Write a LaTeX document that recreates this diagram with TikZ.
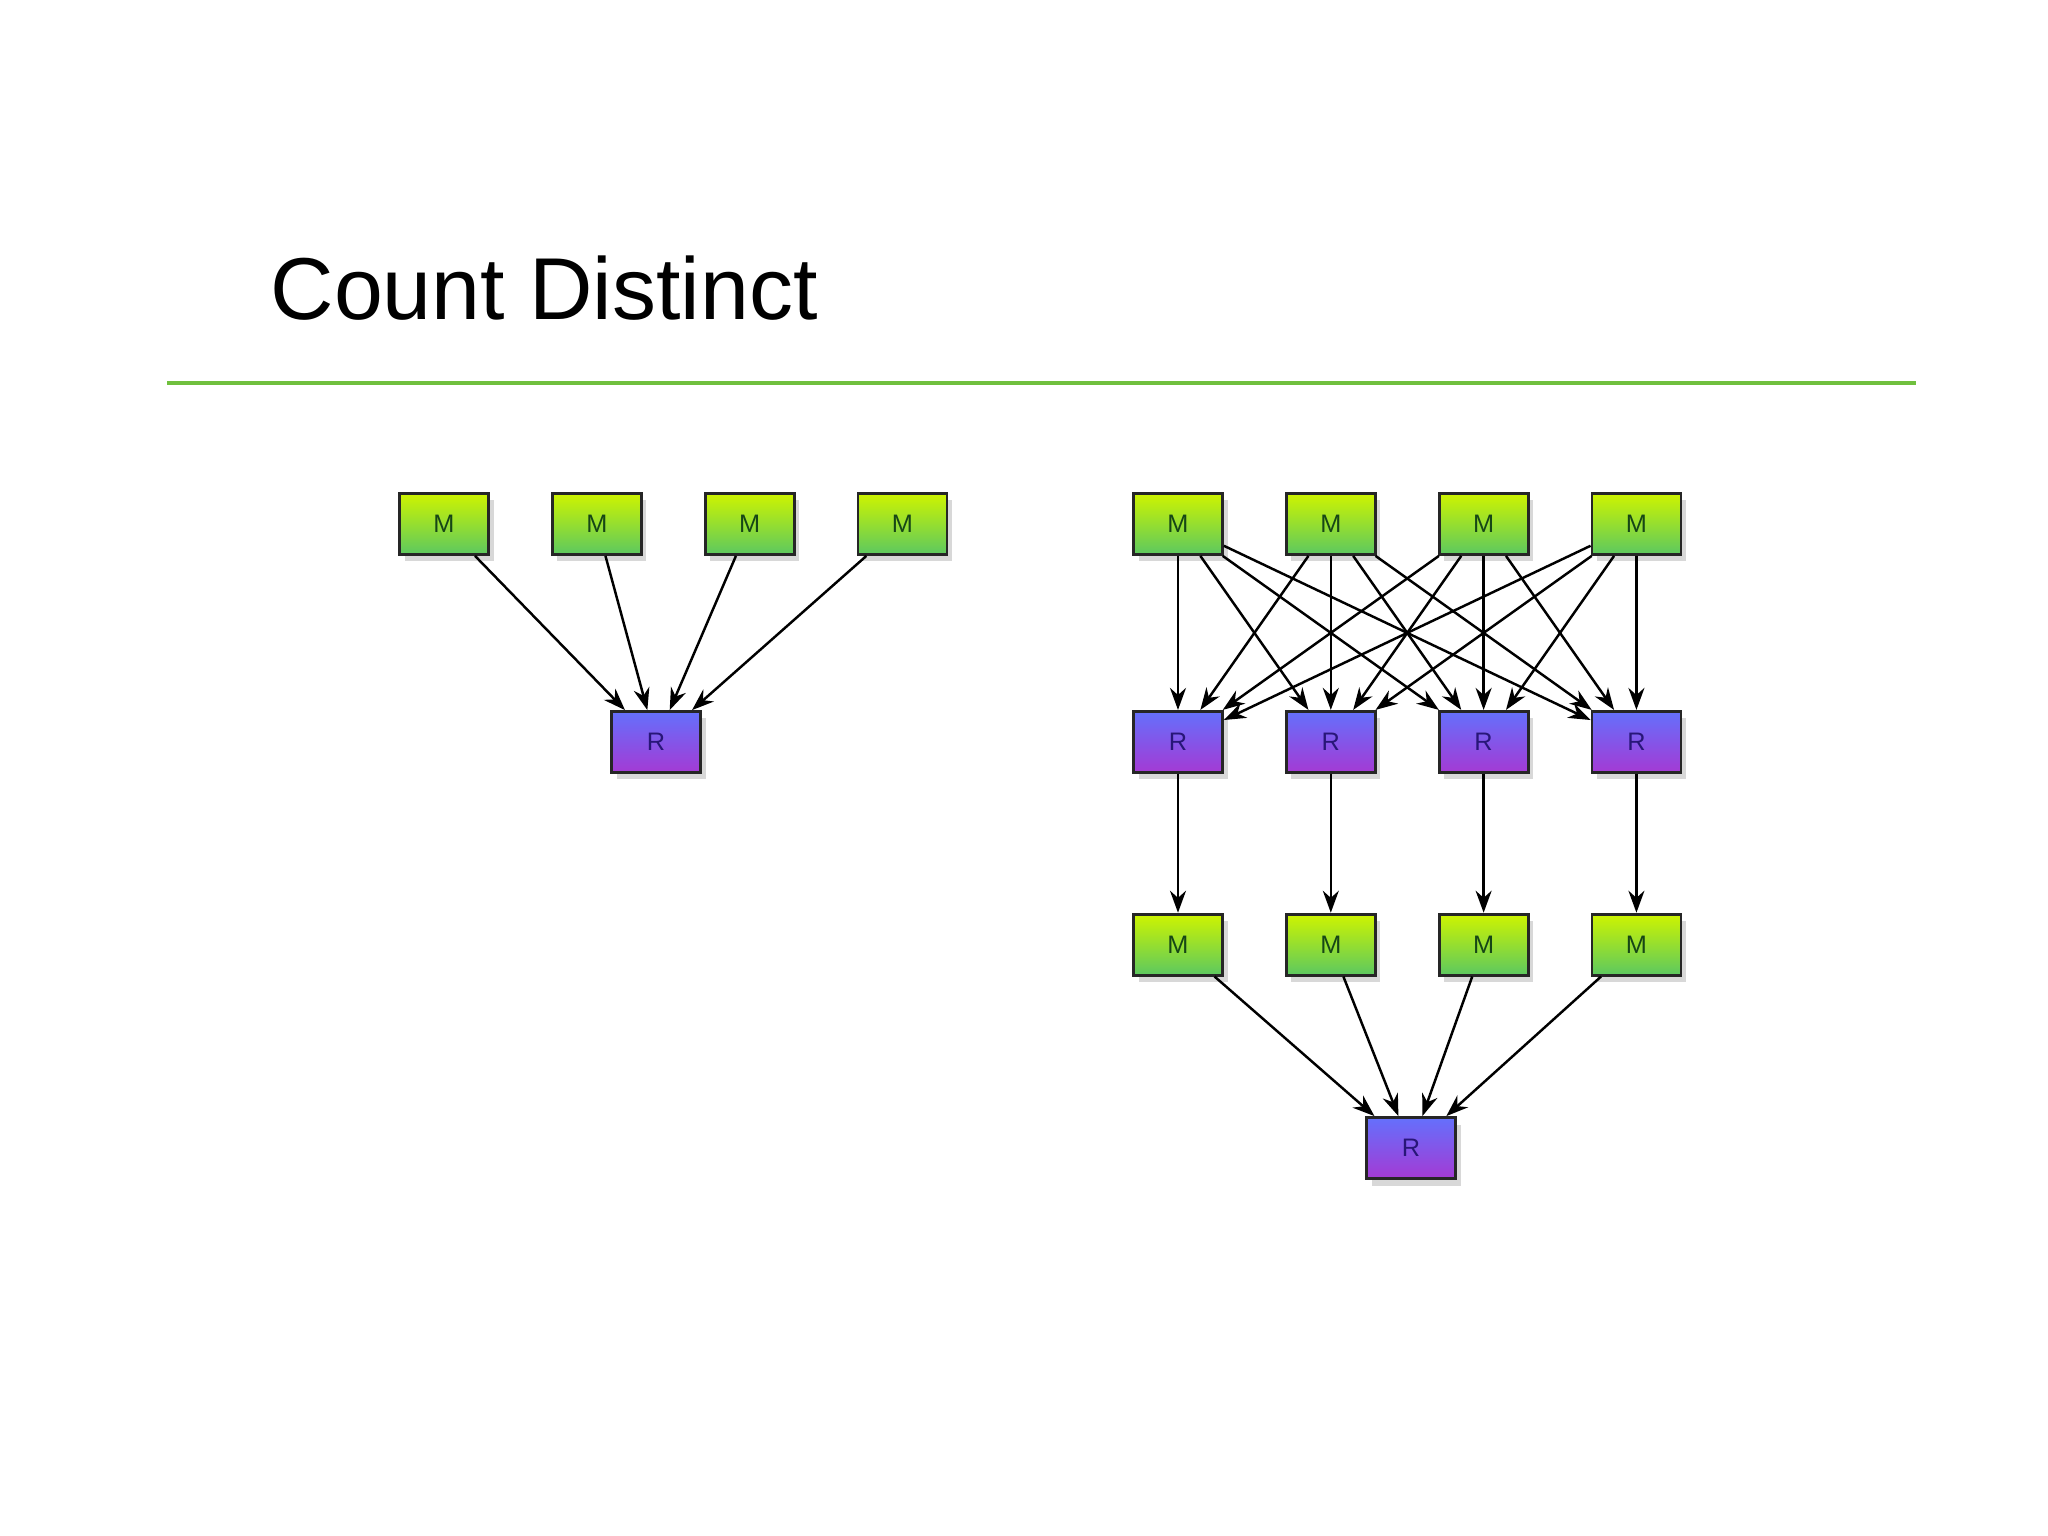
\documentclass[tikz,border=0pt]{standalone}
\usepackage{fontspec}
\setmainfont{Liberation Sans}
\usetikzlibrary{positioning, shadows, arrows.meta}

\definecolor{mapTop}{RGB}{206,244,0}
\definecolor{mapBot}{RGB}{92,200,96}
\definecolor{mapText}{RGB}{22,70,22}
\definecolor{redTop}{RGB}{100,112,252}
\definecolor{redBot}{RGB}{164,58,212}
\definecolor{redText}{RGB}{40,22,120}
\definecolor{ruleGreen}{RGB}{112,192,62}

\begin{document}
\begin{tikzpicture}[box/.style={rectangle, draw=black!85, line width=0.8pt,
    minimum width=8.9mm, minimum height=6.1mm, inner sep=0pt,
    font=\fontsize{7.2}{8}\selectfont,
    drop shadow={shadow xshift=0.5mm, shadow yshift=-0.7mm, opacity=0.3}},
  mapbox/.style={box, top color=mapTop, bottom color=mapBot, text=mapText},
  redbox/.style={box, top color=redTop, bottom color=redBot, text=redText},
  >={Stealth[length=2.2mm, width=1.6mm]}, link/.style={->, line width=0.7pt},
  node distance=15.4mm and 6.1mm]

  \fill[white] (0,0) rectangle (20.48,-15.36);
  \useasboundingbox (0,0) rectangle (20.48,-15.36);

  \node[anchor=base west, inner sep=0pt, font=\fontsize{25}{30}\selectfont] (title) at (2.70,-3.20) {Count Distinct};
  \coordinate (ruleL) at (1.67,-3.83);
  \coordinate (ruleR) at (19.16,-3.83);
  \draw[ruleGreen, line width=1.1pt] (ruleL) -- (ruleR);

  % one step
  \node[mapbox] (M1) at (4.44,-5.24) {M};
  \node[mapbox, right=of M1] (M2) {M};
  \node[mapbox, right=of M2] (M3) {M};
  \node[mapbox, right=of M3] (M4) {M};
  \node[redbox] (R0) at (6.56,-7.42) {R};
  \foreach \s in {M1,M2,M3,M4}
    \draw[link] (\s) -- (R0);

  % two steps
  \node[mapbox] (P1) at (11.78,-5.24) {M};
  \node[mapbox, right=of P1] (P2) {M};
  \node[mapbox, right=of P2] (P3) {M};
  \node[mapbox, right=of P3] (P4) {M};
  \node[redbox, below=of P1] (Q1) {R};
  \node[redbox, below=of P2] (Q2) {R};
  \node[redbox, below=of P3] (Q3) {R};
  \node[redbox, below=of P4] (Q4) {R};
  \node[mapbox, below=13.9mm of Q1] (S1) {M};
  \node[mapbox, below=13.9mm of Q2] (S2) {M};
  \node[mapbox, below=13.9mm of Q3] (S3) {M};
  \node[mapbox, below=13.9mm of Q4] (S4) {M};
  \node[redbox] (T) at (14.11,-11.48) {R};

  \foreach \s in {P1,P2,P3,P4}
    \foreach \t in {Q1,Q2,Q3,Q4}
      \draw[link] (\s) -- (\t);
  \foreach \i in {1,2,3,4} {
    \draw[link] (Q\i) -- (S\i);
    \draw[link] (S\i) -- (T);
  }
\end{tikzpicture}
\end{document}
